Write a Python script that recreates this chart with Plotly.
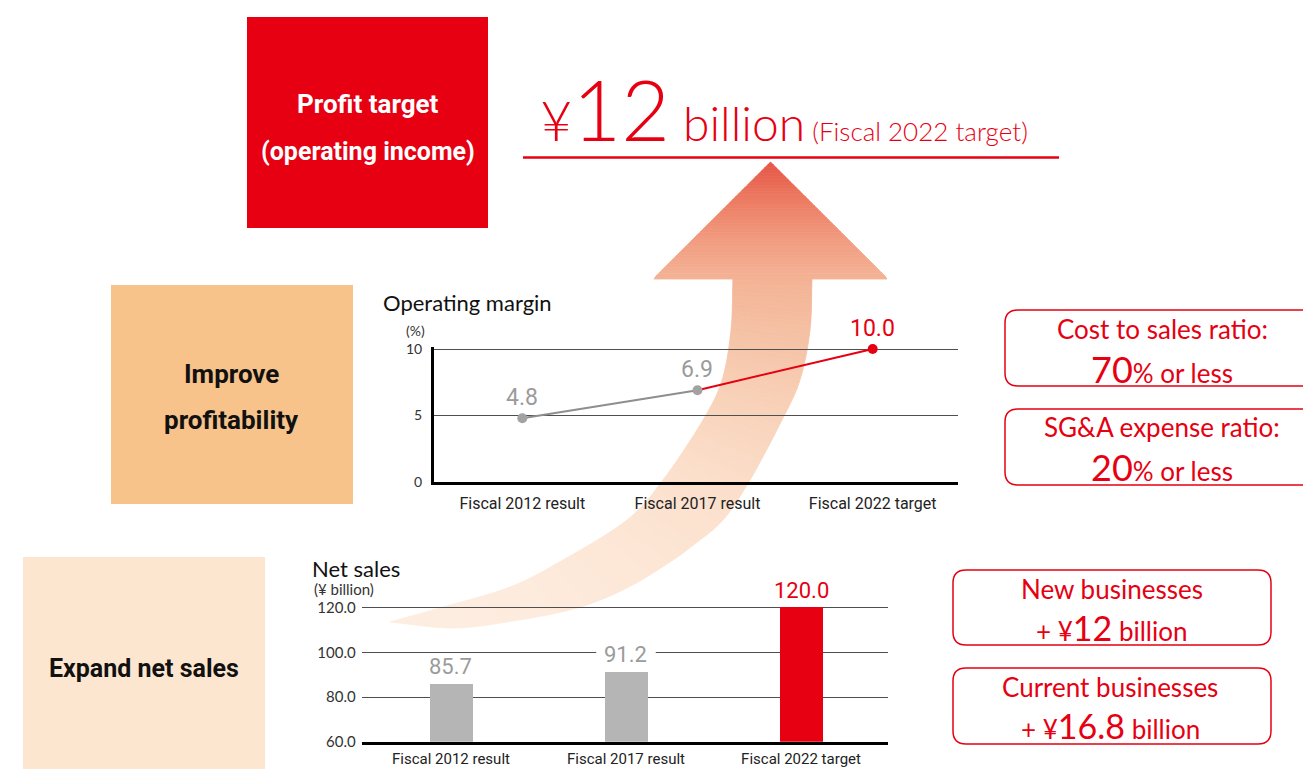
import numpy as np
import plotly.graph_objects as go

W, H = 1303, 769

# ---- data -------------------------------------------------------------
categories = ["Fiscal 2012 result", "Fiscal 2017 result", "Fiscal 2022 target"]
margin_pct = [4.8, 6.9, 10.0]
margin_ticks = [0, 5, 10]
sales_bn = [85.7, 91.2, 120.0]
sales_ticks = [60.0, 80.0, 100.0, 120.0]

# ---- styles -----------------------------------------------------------
RED = "#e60012"
GREY_BAR = "#b4b5b4"
GREY_TXT = "#9b9b9b"
GREY_LINE = "#8e8e8e"
GRID = "#4f4f4f"
COND = "Roboto, Liberation Sans, sans-serif"
GEO = "Lato, Noto Sans, sans-serif"


def cond_font(size, color, weight="normal"):
    return dict(family=COND, size=size, color=color, weight=weight)


def px(x):
    return x / W


def py(y):
    return 1 - y / H


def path_from(points, close=True):
    s = "M" + " L".join(f"{px(x):.5f},{py(y):.5f}" for x, y in points)
    return s + (" Z" if close else "")


def rounded_rect(x0, y0, x1, y1, r):
    p = lambda x, y: f"{px(x):.5f},{py(y):.5f}"
    return (f"M{p(x0 + r, y0)} L{p(x1 - r, y0)} Q{p(x1, y0)} {p(x1, y0 + r)} "
            f"L{p(x1, y1 - r)} Q{p(x1, y1)} {p(x1 - r, y1)} L{p(x0 + r, y1)} "
            f"Q{p(x0, y1)} {p(x0, y1 - r)} L{p(x0, y0 + r)} Q{p(x0, y0)} {p(x0 + r, y0)} Z")


shapes = []
annotations = []

# ---- curved gradient arrow (drawn as thin slices) -----------------------
grad_y = [162, 200, 240, 278, 330, 400, 480, 560, 630]
grad_c = ["#e55446", "#ec7b62", "#f19c80", "#f4b295", "#f5c0a3",
          "#f8d1b8", "#fbdfcb", "#fde7d6", "#fdeee2"]
grad_rgb = np.array([[int(c[i:i + 2], 16) for i in (1, 3, 5)] for c in grad_c], float)


def grad_color(y):
    r, g, b = (np.interp(y, grad_y, grad_rgb[:, k]) for k in range(3))
    return f"rgb({r:.0f},{g:.0f},{b:.0f})"


def catmull(pts, n=14):
    P = np.array(pts, float)
    P = np.vstack([P[0] * 2 - P[1], P, P[-1] * 2 - P[-2]])
    out = []
    for i in range(1, len(P) - 2):
        p0, p1, p2, p3 = P[i - 1], P[i], P[i + 1], P[i + 2]
        for t in np.linspace(0, 1, n, endpoint=False):
            t2, t3 = t * t, t * t * t
            out.append(0.5 * (2 * p1 + (-p0 + p2) * t
                              + (2 * p0 - 5 * p1 + 4 * p2 - p3) * t2
                              + (-p0 + 3 * p1 - 3 * p2 + p3) * t3))
    out.append(P[-2])
    return np.array(out)


def resample(curve, n):
    d = np.r_[0, np.cumsum(np.hypot(*np.diff(curve, axis=0).T))]
    s = np.linspace(0, d[-1], n)
    return np.c_[np.interp(s, d, curve[:, 0]), np.interp(s, d, curve[:, 1])]


# arrow head
apex_x, apex_y, base_y, half_w = 770.5, 162, 278, 116.5
n_head = 40
ys = np.linspace(apex_y, base_y + 1, n_head + 1)
for a, b in zip(ys[:-1], ys[1:]):
    wa = (a - apex_y) / (base_y - apex_y) * half_w
    wb = min((b - apex_y) / (base_y - apex_y), 1) * half_w
    c = grad_color((a + b) / 2)
    shapes.append(dict(type="path", xref="paper", yref="paper", layer="below",
                       path=path_from([(apex_x - wa, a), (apex_x + wa, a),
                                       (apex_x + wb, b), (apex_x - wb, b)]),
                       fillcolor=c, line=dict(color=c, width=0.8)))

# arrow shaft
outer_edge = [(812, 277), (810, 330), (800, 380), (782, 420), (750, 480),
              (723, 520), (692, 546), (670, 562), (627, 588), (577, 608),
              (513, 621), (453, 628), (390, 622)]
inner_edge = [(733, 277), (731, 330), (722, 380), (703, 420), (663, 480),
              (627, 520), (563, 560), (510, 587), (443, 607), (390, 622)]
N = 140
outer = resample(catmull(outer_edge), N)
inner = resample(catmull(inner_edge), N)
for i in range(N - 1):
    quad = [tuple(inner[i]), tuple(inner[i + 1]), tuple(outer[i + 1]), tuple(outer[i])]
    c = grad_color(np.mean([q[1] for q in quad]))
    shapes.append(dict(type="path", xref="paper", yref="paper", layer="below",
                       path=path_from(quad), fillcolor=c,
                       line=dict(color=c, width=0.8)))

# ---- coloured label boxes ----------------------------------------------
for (x0, y0, x1, y1, col) in [(247, 17, 488, 228, RED),
                              (111, 285, 353, 504, "#f8c38b"),
                              (23, 557, 265, 769, "#fde6cf")]:
    shapes.append(dict(type="rect", xref="paper", yref="paper", layer="below",
                       x0=px(x0), x1=px(x1), y0=py(y1), y1=py(y0),
                       fillcolor=col, line=dict(width=0)))

box_text = [("Profit target", 367.5, 104, "white", 26),
            ("(operating income)", 367.5, 152, "white", 25),
            ("Improve", 232, 374, "#111", 26),
            ("profitability", 232, 420, "#111", 26),
            ("Expand net sales", 144, 668, "#111", 25)]
for t, x, y, col, s in box_text:
    annotations.append(dict(text=t, x=px(x), y=py(y), xref="paper", yref="paper",
                            xanchor="center", yanchor="middle", showarrow=False,
                            font=cond_font(s, col, "bold")))

# ---- headline -------------------------------------------------------------
headline = ("<span style='font-size:56px'>¥</span>"
            "<span style='font-size:84px'>12</span> "
            "<span style='font-size:48px'>billion</span>"
            "<span style='font-size:26px'> (Fiscal 2022 target)</span>")
annotations.append(dict(text=headline, x=px(538), y=py(161), xref="paper", yref="paper",
                        xanchor="left", yanchor="bottom", showarrow=False,
                        font=dict(family=GEO, size=48, color=RED, weight=300)))
shapes.append(dict(type="line", xref="paper", yref="paper", layer="above",
                   x0=px(523), x1=px(1059), y0=py(157.5), y1=py(157.5),
                   line=dict(color=RED, width=2.5)))

# ---- target boxes on the right -------------------------------------------
for (x0, y0, x1, y1) in [(1005, 310, 1320, 386), (1005, 409, 1320, 485),
                         (953, 570, 1271, 645), (953, 668, 1271, 744)]:
    shapes.append(dict(type="path", xref="paper", yref="paper", layer="above",
                       path=rounded_rect(x0, y0, x1, y1, 13), fillcolor="white",
                       line=dict(color=RED, width=1.5)))

big = "<span style='font-size:36px'>{}</span>"
mid = "<span style='font-size:34px'>{}</span>"
# (first line, second line, centre x, y where the two lines meet)
right_text = [
    ("Cost to sales ratio:", big.format("70") + "% or less", 1162, 346),
    ("SG&A expense ratio:", big.format("20") + "% or less", 1162, 444),
    ("New businesses", "+ ¥" + mid.format("12") + " billion", 1112, 606),
    ("Current businesses", "+ ¥" + mid.format("16.8") + " billion", 1110, 704),
]
for l1, l2, x, y in right_text:
    annotations.append(dict(text=l1, x=px(x), y=py(y), xref="paper", yref="paper",
                            xanchor="center", yanchor="bottom", showarrow=False,
                            borderpad=0, font=dict(family=GEO, size=26, color=RED)))
    annotations.append(dict(text=l2, x=px(x), y=py(y), xref="paper", yref="paper",
                            xanchor="center", yanchor="top", showarrow=False,
                            borderpad=0, font=dict(family=GEO, size=26, color=RED)))

# ---- chart titles --------------------------------------------------------
for t, x, y, s, col in [("Operating margin", 381, 302, 22, "#111"),
                        ("(%)", 404, 330, 14, "#333"),
                        ("Net sales", 310, 568, 22, "#111"),
                        ("(¥ billion)", 312, 589, 15, "#333")]:
    annotations.append(dict(text=t, x=px(x), y=py(y), xref="paper", yref="paper",
                            xanchor="left", yanchor="middle", showarrow=False,
                            font=dict(family=GEO, size=s, color=col)))

# ---- traces --------------------------------------------------------------
xi = list(range(len(categories)))
bar_colors = [GREY_BAR, GREY_BAR, RED]
lab_colors = [GREY_TXT, GREY_TXT, RED]

fig = go.Figure()
fig.add_trace(go.Scatter(x=xi[1:], y=margin_pct[1:], mode="lines",
                         line=dict(color=RED, width=2), xaxis="x", yaxis="y",
                         cliponaxis=False, hoverinfo="skip"))
fig.add_trace(go.Scatter(x=xi[:2], y=margin_pct[:2], mode="lines+markers",
                         line=dict(color=GREY_LINE, width=2),
                         marker=dict(color="#a2a2a2", size=10),
                         xaxis="x", yaxis="y", cliponaxis=False))
fig.add_trace(go.Scatter(x=xi[2:], y=margin_pct[2:], mode="markers",
                         marker=dict(color=RED, size=10),
                         xaxis="x", yaxis="y", cliponaxis=False))
fig.add_trace(go.Bar(x=xi, y=sales_bn, width=0.247,
                     marker=dict(color=bar_colors, line=dict(width=0)),
                     xaxis="x2", yaxis="y2"))

for i, v in enumerate(margin_pct):
    annotations.append(dict(text=f"{v:.1f}", x=i, y=v, xref="x", yref="y",
                            xanchor="center", yanchor="bottom", yshift=5,
                            showarrow=False, font=cond_font(23, lab_colors[i])))
for i, v in enumerate(sales_bn):
    annotations.append(dict(text=f"{v:.1f}", x=i, y=v, xref="x2", yref="y2",
                            xanchor="center", yanchor="bottom", yshift=3,
                            showarrow=False, font=cond_font(22, lab_colors[i])))
# clear the gridline behind the 91.2 label
shapes.append(dict(type="rect", xref="x2", yref="y2", layer="above",
                   x0=1 - 0.17, x1=1 + 0.17, y0=98.5, y1=101.5,
                   fillcolor="white", line=dict(width=0)))

axis_common = dict(zeroline=False, ticks="", fixedrange=True, automargin=False)

# 10 % and 120.0 gridlines sit a hair inside the plot edge so they are kept
m_top, s_top = 10.15, 121.0
m_scale = (482 - 349) / 10.0
s_scale = (741.7 - 607.7) / 60.0

fig.update_layout(
    template="none",
    width=W, height=H, margin=dict(l=0, r=0, t=0, b=0, autoexpand=False),
    paper_bgcolor="white", plot_bgcolor="rgba(0,0,0,0)",
    showlegend=False, bargap=0,
    xaxis=dict(domain=[px(434), px(958)], range=[-0.504, 2.487], anchor="y",
               tickvals=xi, ticktext=categories, showline=True, showgrid=False,
               linecolor="black", linewidth=3, ticklabelstandoff=5,
               tickfont=cond_font(16, "#222"), **axis_common),
    yaxis=dict(domain=[py(482), py(482 - m_top * m_scale)], range=[0, m_top], anchor="x",
               tickvals=margin_ticks, ticktext=[str(v) for v in margin_ticks],
               showline=True, linecolor="black", linewidth=3, showgrid=True,
               gridcolor=GRID, gridwidth=1.3, ticklabelstandoff=6,
               tickfont=dict(family=GEO, size=14, color="#333"), **axis_common),
    xaxis2=dict(domain=[px(361.7), px(888)], range=[-0.51, 2.497], anchor="y2",
                tickvals=xi, ticktext=categories, showline=True, showgrid=False,
                linecolor="black", linewidth=3, ticklabelstandoff=1,
                tickfont=cond_font(15, "#222"), **axis_common),
    yaxis2=dict(domain=[py(741.7), py(741.7 - (s_top - 60) * s_scale)], range=[60, s_top],
                anchor="x2", tickvals=sales_ticks,
                ticktext=[f"{v:.1f}" for v in sales_ticks],
                showline=False, showgrid=True, gridcolor=GRID, gridwidth=1.3,
                ticklabelstandoff=5, tickfont=dict(family=GEO, size=15, color="#333"),
                **axis_common),
    shapes=shapes, annotations=annotations,
)

fig.write_html("out.html")
